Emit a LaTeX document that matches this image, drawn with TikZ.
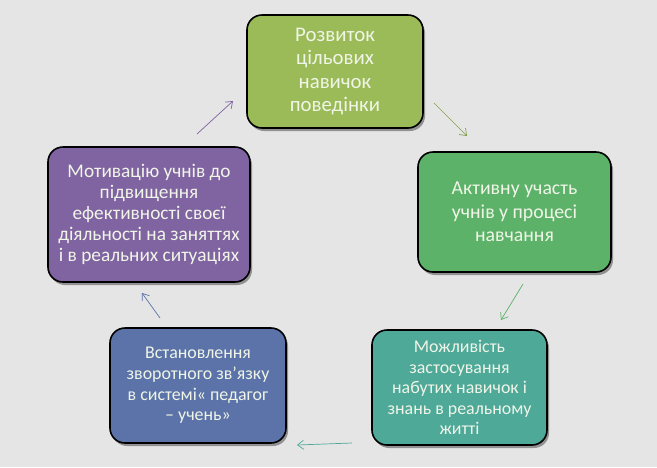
\documentclass[tikz,border=0pt]{standalone}
\usepackage{fontspec}
\setmainfont{Carlito}
\usetikzlibrary{shadows,arrows.meta}
\definecolor{bg}{RGB}{229,229,229}
\definecolor{txt}{RGB}{240,245,232}
\definecolor{olivegr}{RGB}{155,187,89}
\definecolor{leafgr}{RGB}{92,178,104}
\definecolor{tealgr}{RGB}{78,169,153}
\definecolor{slateb}{RGB}{91,115,168}
\definecolor{violet}{RGB}{128,100,162}
\begin{document}
\begin{tikzpicture}[x=1pt,y=-1pt,rounded corners=15pt,
  box/.style={draw=black,line width=1.6pt,align=center,text=txt,inner sep=0pt,
    drop shadow={shadow xshift=2pt,shadow yshift=-3pt,fill=black!70,opacity=.55}},
  big/.style={font=\fontsize{20.8}{23.5}\selectfont},
  mid/.style={font=\fontsize{19.3}{21}\selectfont},
  small/.style={font=\fontsize{17.9}{20.6}\selectfont},
  arr/.style={line width=.7pt,-{Straight Barb[length=6pt,width=9pt]}}]
\fill[bg,sharp corners] (0,0) rectangle (657,467);
\useasboundingbox (0,0) rectangle (657,467);

\node[box,big,fill=olivegr,minimum width=176pt,minimum height=113pt] (rozvytok) at (335,71.5)
  {Розвиток\\цільових\\навичок\\поведінки};
\node[box,font=\fontsize{19.8}{23.5}\selectfont,fill=leafgr,minimum width=193pt,minimum height=120pt] (uchast) at (514.5,212)
  {Активну участь\\учнів у процесі\\навчання};
\node[box,small,fill=tealgr,minimum width=175pt,minimum height=115pt] (mozhlyvist) at (459.5,387.5)
  {Можливість\\застосування\\набутих навичок і\\знань в реальному\\житті};
\node[box,small,fill=slateb,minimum width=176pt,minimum height=115pt] (zvjazok) at (198,385.5)
  {Встановлення\\зворотного зв’язку\\в системі« педагог\\– учень»};
\node[box,mid,fill=violet,minimum width=202pt,minimum height=135pt] (motyvacija) at (149,214.5)
  {Мотивацію учнів до\\підвищення\\ефективності своєї\\діяльності на заняттях\\і в реальних ситуаціях};

% free arrows between the boxes
\coordinate (a1) at (434,103); \coordinate (b1) at (467,136);
\coordinate (a2) at (523,284); \coordinate (b2) at (501,320);
\coordinate (a3) at (352,443); \coordinate (b3) at (297,445);
\coordinate (a4) at (160,318); \coordinate (b4) at (142,293);
\coordinate (a5) at (197,134); \coordinate (b5) at (233,101);

\draw[arr,olivegr!85!black] (a1) -- (b1);
\draw[arr,leafgr] (a2) -- (b2);
\draw[arr,tealgr] (a3) -- (b3);
\draw[arr,slateb] (a4) -- (b4);
\draw[arr,violet] (a5) -- (b5);
\end{tikzpicture}
\end{document}
